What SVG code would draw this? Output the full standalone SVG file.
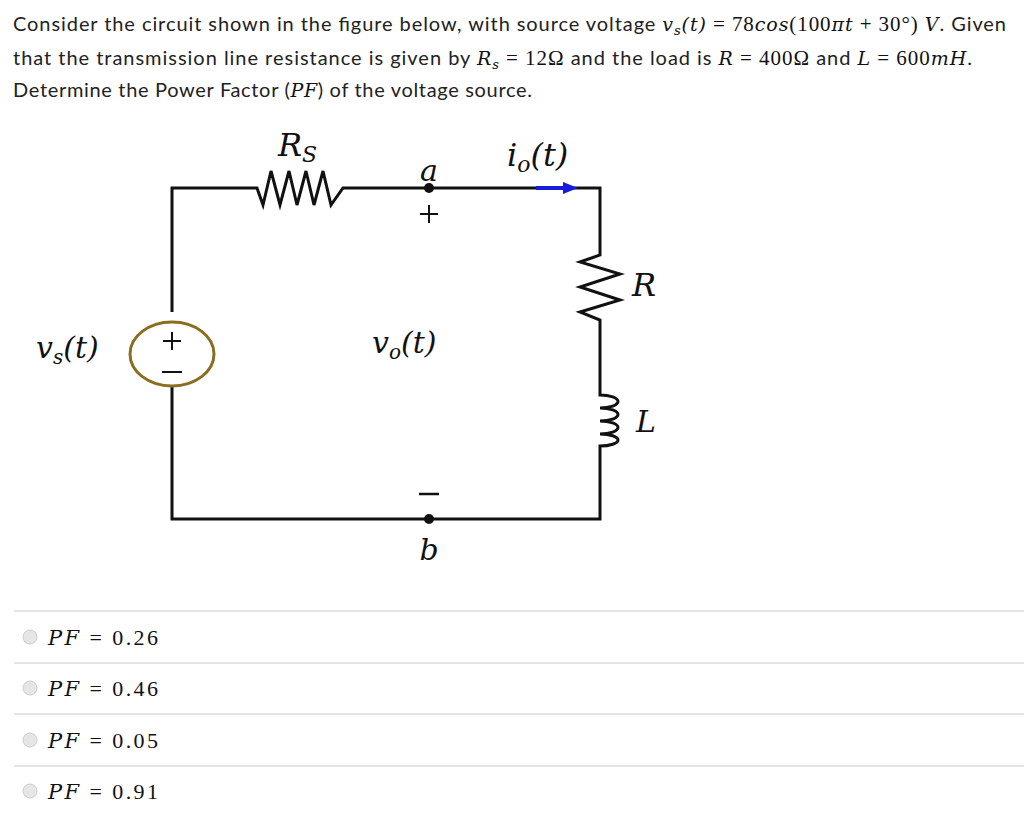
<svg xmlns="http://www.w3.org/2000/svg" width="1024" height="833" viewBox="0 0 1024 833">
<style>
.t{font-family:"Lato","Liberation Sans",sans-serif;font-size:20px;fill:#222}
.m{font-family:"DejaVu Serif","Liberation Serif",serif;font-style:italic;fill:#111}
.n{font-family:"Liberation Serif",serif;fill:#111}
.w{fill:none;stroke:#111;stroke-width:3}
.sep{stroke:#ddd;stroke-width:1.5}
.rad{fill:#e6e6e6;stroke:#ccc;stroke-width:1}
</style>
<rect width="1024" height="833" fill="#fff"/>
<g id="question">
<text class="t" x="13" y="31" textLength="993" lengthAdjust="spacing">Consider the circuit shown in the figure below, with source voltage <tspan class="m" font-size="19">v<tspan font-size="13" dy="4">s</tspan><tspan dy="-4">(t)</tspan></tspan><tspan class="n" font-size="21"> = 78</tspan><tspan class="m" font-size="19">cos</tspan><tspan class="n" font-size="21">(100</tspan><tspan class="m" font-size="19">πt</tspan><tspan class="n" font-size="21"> + 30°)  </tspan><tspan class="m" font-size="19">V</tspan>. Given</text>
<text class="t" x="13" y="65" textLength="959" lengthAdjust="spacing">that the transmission line resistance is given by <tspan class="m" font-size="19">R<tspan font-size="13" dy="4">s</tspan></tspan><tspan class="n" font-size="21" dy="-4"> = 12Ω</tspan> and the load is <tspan class="m" font-size="19">R</tspan><tspan class="n" font-size="21"> = 400Ω</tspan> and <tspan class="m" font-size="19">L</tspan><tspan class="n" font-size="21"> = 600</tspan><tspan class="m" font-size="19">mH</tspan>.</text>
<text class="t" x="13" y="97" textLength="519" lengthAdjust="spacing">Determine the Power Factor (<tspan class="m" font-size="19">PF</tspan>) of the voltage source.</text>
</g>
<g id="connectors">
<path class="w" d="M172,312 V188 H257 L263,205 L271,171 L280,205 L289,171 L297,205 L306,171 L314,205 L323,171 L331,205 L343,188 H600 V255 L580,262 L620,274 L580,287 L620,300 L580,312 L600,320 V395 A18,6.5 0 0 1 600,408 A18,6.5 0 0 1 600,421 A18,6.5 0 0 1 600,434 A18,6 0 0 1 600,446 V519 H172 V386"/>
<path d="M536,188 H566" stroke="#1a1adb" stroke-width="4"/>
<polygon points="578,188 563,182 563,194" fill="#1a1adb"/>
</g>
<g id="source">
<ellipse cx="172" cy="354" rx="42" ry="32" fill="none" stroke="#8a6d1e" stroke-width="3"/>
<path d="M163,341 H181 M172,332 V350 M162,372 H182" stroke="#111" stroke-width="2"/>
<text class="m" x="36" y="358" font-size="30">v<tspan font-size="20" dy="6">s</tspan><tspan dy="-6">(t)</tspan></text>
</g>
<g id="node-a"><circle cx="429" cy="188" r="5" fill="#111"/><text class="m" x="429" y="181" font-size="30" text-anchor="middle">a</text><path d="M420,214 H438 M429,205 V223" stroke="#111" stroke-width="2"/></g>
<g id="node-b"><circle cx="429" cy="519" r="5" fill="#111"/><text class="m" x="429" y="560" font-size="30" text-anchor="middle">b</text><path d="M419,494 H439" stroke="#111" stroke-width="2.5"/></g>
<g id="labels">
<text class="m" x="278" y="156" font-size="32">R<tspan font-size="22" dy="6">S</tspan></text>
<text class="m" x="507" y="166" font-size="32">i<tspan font-size="22" dy="6">o</tspan><tspan dy="-6">(t)</tspan></text>
<text class="m" x="372" y="353" font-size="30">v<tspan font-size="20" dy="6">o</tspan><tspan dy="-6">(t)</tspan></text>
<text class="m" x="632" y="296" font-size="32">R</text>
<text class="m" x="636" y="432" font-size="30">L</text>
</g>
<g id="options">
<line class="sep" x1="14" y1="611" x2="1024" y2="611"/>
<line class="sep" x1="14" y1="663" x2="1024" y2="663"/>
<line class="sep" x1="14" y1="714" x2="1024" y2="714"/>
<line class="sep" x1="14" y1="766" x2="1024" y2="766"/>
<circle class="rad" cx="30" cy="637" r="7"/><text class="n" x="48" y="645" font-size="22" textLength="110" lengthAdjust="spacing"><tspan class="m" font-size="21">PF</tspan> = 0.26</text>
<circle class="rad" cx="30" cy="688" r="7"/><text class="n" x="48" y="696" font-size="22" textLength="110" lengthAdjust="spacing"><tspan class="m" font-size="21">PF</tspan> = 0.46</text>
<circle class="rad" cx="30" cy="740" r="7"/><text class="n" x="48" y="748" font-size="22" textLength="110" lengthAdjust="spacing"><tspan class="m" font-size="21">PF</tspan> = 0.05</text>
<circle class="rad" cx="30" cy="791" r="7"/><text class="n" x="48" y="799" font-size="22" textLength="110" lengthAdjust="spacing"><tspan class="m" font-size="21">PF</tspan> = 0.91</text>
</g>
</svg>
